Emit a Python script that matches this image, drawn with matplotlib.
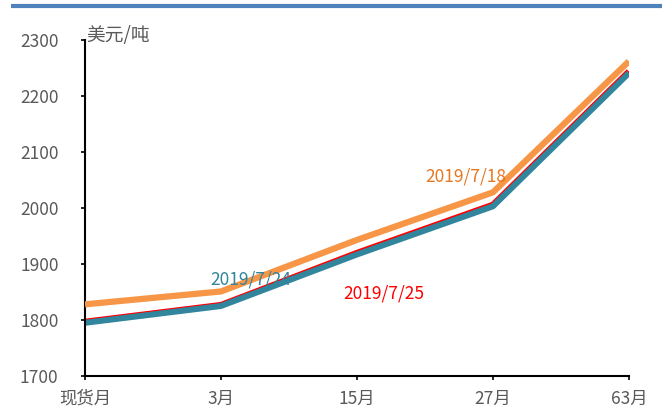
import matplotlib
matplotlib.use("Agg")
import matplotlib.pyplot as plt
from matplotlib.lines import Line2D

plt.rcParams['font.family'] = ['Noto Sans CJK SC', 'DejaVu Sans']

categories = ['现货月', '3月', '15月', '27月', '63月']
s_0718 = [1828, 1851, 1943, 2028, 2262]
s_0725 = [1797, 1827, 1920, 2006, 2244]
s_0724 = [1795, 1825, 1917, 2003, 2241]

fig = plt.figure(figsize=(6.62, 4.17), dpi=100)
ax = fig.add_axes([0.1284, 0.0983, 0.8216, 0.8057])

x = list(range(len(categories)))
ax.plot(x, s_0718, color='#F79646', lw=4.5, solid_capstyle='butt', zorder=3)
ax.plot(x, s_0725, color='#FF0000', lw=4.3, solid_capstyle='butt', zorder=2)
ax.plot(x, s_0724, color='#31859C', lw=4.3, solid_capstyle='butt', zorder=2.5)

ax.set_xlim(0, 4)
ax.set_ylim(1700, 2300)
ax.set_yticks(range(1700, 2301, 100))
ax.set_xticks(x)
ax.set_xticklabels(categories)

for s in ['top', 'right']:
    ax.spines[s].set_visible(False)
for s in ['left', 'bottom']:
    ax.spines[s].set_color('black')
    ax.spines[s].set_linewidth(1.5)
ax.tick_params(axis='both', colors='black', labelcolor='#595959', labelsize=12.5,
               length=3, width=1.2, direction='out')
ax.tick_params(axis='y', pad=16)
ax.tick_params(axis='x', pad=7)

ax.text(0.01, 2308, '美元/吨', color='#595959', fontsize=13.5, va='center', ha='left')
ax.text(2.8, 2056, '2019/7/18', color='#E87722', fontsize=12.5, ha='center', va='center')
ax.text(1.22, 1872, '2019/7/24', color='#31859C', fontsize=12.5, ha='center', va='center')
ax.text(2.2, 1847, '2019/7/25', color='#FF0000', fontsize=12.5, ha='center', va='center')

fig.add_artist(Line2D([11 / 662, 1], [1 - 6 / 417, 1 - 6 / 417], color='#4F81BD', lw=3,
                      solid_capstyle='butt', transform=fig.transFigure))

fig.savefig('out.png', dpi=100)
